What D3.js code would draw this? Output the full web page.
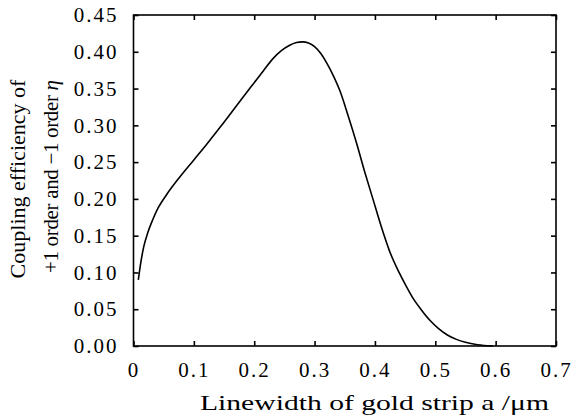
<!DOCTYPE html>
<html><head><meta charset="utf-8">
<script src="https://cdn.jsdelivr.net/npm/d3@7"></script>
<style>
html,body{margin:0;padding:0;background:#fff;}
svg{display:block;}
</style></head>
<body><svg id="c" width="576" height="417"></svg>
<script>
const linewidth = [0.008,0.012,0.017,0.024,0.032,0.041,0.055,0.077,0.1,0.121,0.146,0.171,0.2,0.215,0.2315,0.245,0.258,0.27,0.28,0.29,0.30,0.31,0.32,0.332,0.342,0.356,0.3695,0.383,0.397,0.411,0.4247,0.44,0.452,0.463,0.477,0.491,0.505,0.52,0.535,0.55,0.57,0.595];
const efficiency = [0.090,0.113,0.135,0.155,0.172,0.188,0.206,0.230,0.253,0.274,0.300,0.327,0.358,0.374,0.391,0.4015,0.4085,0.4125,0.4135,0.412,0.407,0.398,0.385,0.366,0.347,0.312,0.276,0.237,0.199,0.161,0.128,0.100,0.081,0.065,0.049,0.035,0.024,0.015,0.009,0.005,0.0018,0.0];
const xTicks = [0,0.1,0.2,0.3,0.4,0.5,0.6,0.7];
const xTickLabels = ["0","0.1","0.2","0.3","0.4","0.5","0.6","0.7"];
const yTicks = [0,0.05,0.1,0.15,0.2,0.25,0.3,0.35,0.4,0.45];
const yTickLabels = ["0.00","0.05","0.10","0.15","0.20","0.25","0.30","0.35","0.40","0.45"];

const FONT='"Liberation Serif","Times New Roman",serif';
const L=133.5,R=556,T=15,B=346;
const svg=d3.select("#c");
const x=d3.scaleLinear().domain([0,0.7]).range([L,R]);
const y=d3.scaleLinear().domain([0,0.45]).range([B,T]);
const fs=21;

const gx=svg.append("g").attr("transform",`translate(0,${B})`)
  .call(d3.axisBottom(x).tickValues(xTicks).tickFormat((d,i)=>xTickLabels[i]).tickSize(-5).tickPadding(16));
const gy=svg.append("g").attr("transform",`translate(${L},0)`)
  .call(d3.axisLeft(y).tickValues(yTicks).tickFormat((d,i)=>yTickLabels[i]).tickSize(-5).tickPadding(15));
const gx2=svg.append("g").attr("transform",`translate(0,${T})`)
  .call(d3.axisTop(x).tickValues(xTicks).tickFormat("").tickSize(-5));
const gy2=svg.append("g").attr("transform",`translate(${R},0)`)
  .call(d3.axisRight(y).tickValues(yTicks).tickFormat("").tickSize(-5));
[gx,gy,gx2,gy2].forEach(g=>{
  g.attr("font-family",null).attr("font-size",null);
  g.select(".domain").remove();
  g.selectAll("line").attr("stroke","#000").attr("stroke-width",1.6);
  g.selectAll("text").style("font-family",FONT).style("font-size",fs+"px").style("letter-spacing","2px").attr("fill","#000");
});
svg.append("rect").attr("x",L).attr("y",T).attr("width",R-L).attr("height",B-T)
  .attr("fill","none").attr("stroke","#000").attr("stroke-width",1.6);

const pts=linewidth.map((d,i)=>[d,efficiency[i]]);
svg.append("path").datum(pts)
  .attr("d",d3.line().x(d=>x(d[0])).y(d=>y(d[1])).curve(d3.curveMonotoneX))
  .attr("fill","none").attr("stroke","#000").attr("stroke-width",1.6);

svg.append("text").attr("x",200).attr("y",410)
  .attr("textLength",349).attr("lengthAdjust","spacingAndGlyphs")
  .style("font-family",FONT).style("font-size","22px").attr("fill","#000")
  .text("Linewidth of gold strip a /μm");
svg.append("text").attr("transform","rotate(-90)")
  .attr("x",-179).attr("y",25).attr("text-anchor","middle")
  .style("font-family",FONT).style("font-size","22px").attr("fill","#000")
  .text("Coupling efficiency of");
const t2=svg.append("text").attr("transform","rotate(-90)")
  .attr("x",-273).attr("y",58).attr("textLength",193).attr("lengthAdjust","spacing")
  .style("font-family",FONT).style("font-size","21px").attr("fill","#000");
t2.append("tspan").text("+1 order and \u22121 order ");
t2.append("tspan").style("font-style","italic").text("η");
</script></body></html>
